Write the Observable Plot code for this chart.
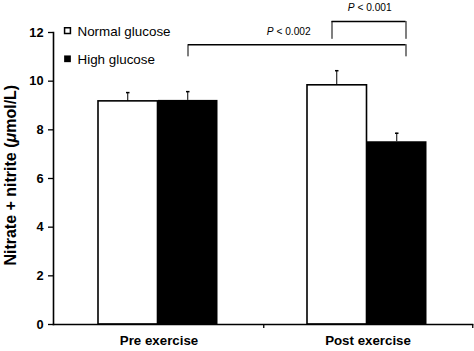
<!DOCTYPE html>
<html><head><meta charset="utf-8">
<script src="https://cdn.jsdelivr.net/npm/d3@7"></script>
<script src="https://cdn.jsdelivr.net/npm/@observablehq/plot@0.6"></script>
<style>body{margin:0;background:#fff} #chart{width:474px;height:351px}</style>
</head><body><div id="chart"></div>
<script>
// ---- data ----
const categories = ["Pre exercise", "Post exercise"];
const series = ["Normal glucose", "High glucose"];
const normalMeans = [9.17, 9.83];
const normalErrors = [0.36, 0.60];
const highMeans = [9.21, 7.51];
const highErrors = [0.36, 0.35];
const yTicks = [0, 2, 4, 6, 8, 10, 12];
const yLabel = "Nitrate + nitrite (μmol/L)";
const pLabels = ["P < 0.002", "P < 0.001"];
const pLevels = [11.5, 12.45];     // bracket heights
const pLegEnds = [11.0, 11.72];    // bracket leg bottoms
const pTextY = [12.03, 13.02];

const FONT = "'Liberation Sans', Arial, Helvetica, sans-serif";
const rows = categories.map((c, i) => ({
  category: c, normal: normalMeans[i], normalErr: normalErrors[i],
  high: highMeans[i], highErr: highErrors[i]
}));
const br = pLabels.map((l, i) => ({label: l, level: pLevels[i], leg: pLegEnds[i], ty: pTextY[i]}));

const chart = Plot.plot({
  width: 474, height: 351,
  marginLeft: 53, marginRight: 2, marginTop: 32, marginBottom: 27,
  style: {fontFamily: FONT, color: "black", background: "white", overflow: "visible"},
  x: {domain: categories, type: "band", padding: 0, axis: null},
  y: {domain: [0, 12], axis: null},
  marks: [
    // bars
    Plot.barY(rows, {x: "category", y: "normal", fill: "white", stroke: "black", strokeWidth: 1.6, insetLeft: 44, insetRight: 105.5}),
    Plot.barY(rows, {x: "category", y: "high", fill: "black", insetLeft: 104, insetRight: 45.5}),
    // error bars (upper only)
    Plot.barY(rows, {x: "category", y1: "normal", y2: d => d.normal + d.normalErr, fill: "black", insetLeft: 73.25, insetRight: 134.75}),
    Plot.tickY(rows, {x: "category", y: d => d.normal + d.normalErr, stroke: "black", strokeWidth: 1.5, insetLeft: 72, insetRight: 133.5}),
    Plot.barY(rows, {x: "category", y1: "high", y2: d => d.high + d.highErr, fill: "black", insetLeft: 133.25, insetRight: 74.75}),
    Plot.tickY(rows, {x: "category", y: d => d.high + d.highErr, stroke: "black", strokeWidth: 1.5, insetLeft: 132, insetRight: 73.5}),
    // axes
    Plot.axisY({ticks: yTicks, tickSize: 5, tickPadding: 5, fontSize: 12.8, fontWeight: "bold", label: null, strokeWidth: 1.3}),
    Plot.frame({anchor: "left", strokeWidth: 1.6}),
    Plot.frame({anchor: "bottom", strokeWidth: 1.6}),
    Plot.axisX({tickSize: 0, tickPadding: 11, fontSize: 13.3, fontWeight: "bold", label: null}),
    Plot.axisX({tickSize: 4, dx: 104.75, tickFormat: () => "", label: null, strokeWidth: 1.3}),
    // bracket: P < 0.002 (Pre high -> Post high)
    Plot.ruleY([br[0]], {x1: () => categories[0], x2: () => categories[1], y: "level", stroke: "black", strokeWidth: 1.5, insetLeft: 134, insetRight: 66.5}),
    Plot.barY([br[0]], {x: () => categories[0], y1: "leg", y2: "level", fill: "black", insetLeft: 133.5, insetRight: 74.5}),
    Plot.barY([br[0]], {x: () => categories[1], y1: "leg", y2: "level", fill: "black", insetLeft: 142.5, insetRight: 65.5}),
    Plot.text([br[0]], {x: () => categories[1], y: "ty", text: "label", dx: -79.25, fontSize: 10.2, lineAnchor: "middle"}),
    // bracket: P < 0.001 (Post normal -> Post high)
    Plot.ruleY([br[1]], {x1: () => categories[1], x2: () => categories[1], y: "level", stroke: "black", strokeWidth: 1.5, insetLeft: 68.5, insetRight: 66.5}),
    Plot.barY([br[1]], {x: () => categories[1], y1: "leg", y2: "level", fill: "black", insetLeft: 68.5, insetRight: 139.5}),
    Plot.barY([br[1]], {x: () => categories[1], y1: "leg", y2: "level", fill: "black", insetLeft: 142.5, insetRight: 65.5}),
    Plot.text([br[1]], {x: () => categories[1], y: "ty", text: "label", dx: 1.75, fontSize: 10.2, lineAnchor: "middle"}),
    // legend
    Plot.dot([series[0]], {frameAnchor: "top-left", symbol: "square", r: 3.3, fill: "white", stroke: "black", strokeWidth: 1.5, dx: 14, dy: -1.8}),
    Plot.text([series[0]], {frameAnchor: "top-left", text: d => d, textAnchor: "start", lineAnchor: "middle", fontSize: 13.4, dx: 24, dy: -1}),
    Plot.dot([series[1]], {frameAnchor: "top-left", symbol: "square", r: 3.8, fill: "black", dx: 14, dy: 26.3}),
    Plot.text([series[1]], {frameAnchor: "top-left", text: d => d, textAnchor: "start", lineAnchor: "middle", fontSize: 13.4, dx: 24, dy: 27}),
    // y label
    Plot.text([yLabel], {frameAnchor: "left", text: d => d, rotate: -90, textAnchor: "middle", fontSize: 16, fontWeight: "bold", dx: -43, dy: -3.3, lineAnchor: "middle"})
  ]
});
document.getElementById("chart").append(chart);

// italic "P" and italic "μ"
d3.select(chart).selectAll("text").each(function () {
  const t = this.textContent;
  const sel = d3.select(this);
  if (/^P </.test(t)) {
    sel.text(null);
    sel.append("tspan").attr("font-style", "italic").text("P");
    sel.append("tspan").text(t.slice(1));
  } else if (t.includes("μ")) {
    const k = t.indexOf("μ");
    sel.text(null);
    sel.append("tspan").text(t.slice(0, k));
    sel.append("tspan").attr("font-style", "italic").text("μ");
    sel.append("tspan").text(t.slice(k + 1));
  }
});
</script>
</body></html>
